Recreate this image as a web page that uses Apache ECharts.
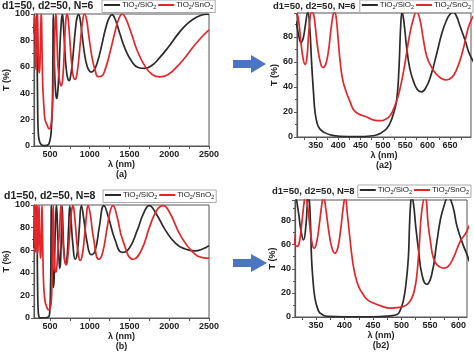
<!DOCTYPE html>
<html>
<head>
<meta charset="utf-8">
<script src="https://cdn.jsdelivr.net/npm/echarts@6/dist/echarts.min.js"></script>
<style>
  html, body { margin: 0; background: #fff; }
  #chart { width: 474px; height: 353px; }
</style>
</head>
<body>
<div id="chart"></div>
<script>
// series names (legend) and panel captions
const seriesNames = ["TiO2/SiO2", "TiO2/SnO2"];
const panelTitles = ["d1=50, d2=50, N=6", "d1=50, d2=50, N=6", "d1=50, d2=50, N=8", "d1=50, d2=50, N=8"];
const panelTags = ["(a)", "(a2)", "(b)", "(b2)"];

// tick labels
const wideLabels = [500, 1000, 1500, 2000, 2500];
const wideTicks = [500, 750, 1000, 1250, 1500, 1750, 2000, 2250, 2500];
const zoomA2Labels = [350, 400, 450, 500, 550, 600, 650];
const zoomA2Ticks = [325, 350, 375, 400, 425, 450, 475, 500, 525, 550, 575, 600, 625, 650, 675];
const zoomB2Labels = [350, 400, 450, 500, 550, 600];
const zoomB2Ticks = [325, 350, 375, 400, 425, 450, 475, 500, 525, 550, 575, 600];

// N=6, TiO2/SiO2  [wavelength nm, T %]
const n6SiO2 = [
  [300, 86], [304, 93], [308, 88], [313, 79], [317, 75.5], [322, 79], [327, 90], [332, 99.5],
  [336, 90], [341, 57], [345, 35], [348, 21], [353, 11], [359, 6.5], [370, 3.5], [382, 1.8],
  [404, 0.6], [440, 0.3], [478, 1], [492, 2.5], [501, 4.5], [509, 7], [516, 11], [524, 19],
  [531, 30], [536, 55], [540, 90], [543, 99.5], [547, 92], [553, 72], [560, 55], [568, 45],
  [577, 38], [586, 36], [597, 40], [608, 50], [620, 66], [632, 83], [642, 93], [650, 98],
  [657, 99.5], [665, 96], [672, 89], [684, 77], [694, 66], [710, 56], [725, 51], [742, 49.5],
  [760, 53], [780, 62], [800, 75], [820, 88], [840, 97], [860, 99.5], [880, 96], [905, 84],
  [935, 70], [965, 61], [995, 57], [1022, 56], [1060, 58], [1100, 64], [1150, 76], [1200, 89],
  [1245, 97], [1280, 99.5], [1320, 96], [1380, 85], [1450, 73], [1530, 64], [1610, 59.5],
  [1690, 58.8], [1780, 61], [1880, 67], [1990, 75], [2100, 84], [2200, 91], [2300, 96],
  [2400, 99], [2480, 99.8], [2500, 99.6]
];

// N=6, TiO2/SnO2
const n6SnO2 = [
  [300, 85], [304, 95], [308, 98], [312, 92], [317, 75], [322, 62], [326, 58], [330, 63],
  [334, 82], [338, 97], [341, 100], [345, 98], [349, 88], [354, 72], [360, 60], [366, 55.5],
  [372, 58], [378, 68], [384, 86], [389, 98], [392, 100], [396, 94], [400, 78], [404, 62],
  [410, 46], [419, 35], [428, 27], [434, 22], [445, 18.5], [464, 16], [480, 13.5], [494, 13],
  [508, 14.5], [516, 17], [523, 21.5], [531, 29], [538, 38], [546, 52], [553, 67], [560, 82],
  [568, 94], [575, 100], [582, 95], [590, 79], [598, 64.5], [610, 55], [620, 50], [632, 46.5],
  [642, 45.5], [655, 48], [665, 54], [678, 68], [690, 86], [697, 93], [706, 98], [716, 100],
  [728, 97], [745, 85], [765, 68], [785, 56], [800, 51.5], [818, 50.5], [838, 54], [860, 64],
  [885, 80], [910, 94], [935, 100], [960, 96], [990, 83], [1030, 67], [1070, 57], [1106, 52.5],
  [1150, 53], [1200, 59], [1260, 72], [1320, 87], [1370, 97], [1410, 100], [1450, 97],
  [1520, 86], [1600, 72], [1700, 60], [1790, 54], [1880, 52.4], [1980, 54], [2080, 59],
  [2200, 67], [2300, 75], [2400, 82], [2500, 88]
];

// N=8, TiO2/SiO2
const n8SiO2 = [
  [300, 62], [304, 80], [309, 97], [313, 99], [318, 90], [323, 73], [328, 64], [332, 75],
  [335, 95], [337, 99.5], [340, 80], [342, 49], [345, 28], [348, 15.7], [352, 8], [357, 3.3],
  [369, 0.5], [400, 0.1], [450, 0.2], [480, 1], [492, 2], [498, 6], [503, 13], [508, 28],
  [512, 49], [514, 75], [516, 94], [518, 99.5], [521, 94], [525, 75], [530, 55], [536, 35],
  [544, 27], [553, 35], [562, 62], [568, 80], [574, 91], [582, 99.5], [590, 92], [597, 76],
  [605, 64], [614, 53], [624, 44], [634, 50], [644, 75], [654, 99], [664, 80], [678, 58],
  [699, 48], [718, 56], [735, 80], [750, 99], [765, 88], [790, 64], [818, 52], [845, 58],
  [870, 80], [896, 99.5], [925, 88], [970, 66], [1020, 56], [1070, 60], [1120, 80],
  [1179, 99.5], [1240, 88], [1320, 69], [1410, 58], [1500, 62], [1600, 78], [1680, 93],
  [1750, 99.5], [1830, 93], [1950, 78], [2080, 66], [2200, 61], [2320, 59.4], [2420, 61],
  [2500, 64]
];

// N=8, TiO2/SnO2
const n8SnO2 = [
  [300, 97], [304, 100], [308, 80], [313, 60], [317, 58.5], [321, 63], [325, 78], [329, 95],
  [331, 99.5], [334, 96], [338, 80], [342, 64], [346.5, 57], [351, 62], [356, 78], [360, 93],
  [363, 99.5], [367, 90], [372, 72], [378, 57], [383, 53], [388, 57], [393, 72], [398, 92],
  [401, 99.5], [405, 85], [410, 62.6], [414, 47], [418.5, 35], [425, 25], [433, 18.5],
  [441, 14], [450.7, 11.6], [465, 9], [480, 7.4], [497, 8], [509, 10], [518, 15.7], [523, 23],
  [527, 35], [531, 58], [535.6, 88], [541.5, 99.5], [547, 76], [551, 62], [556, 49], [563, 43],
  [573.6, 40.5], [582, 42], [591, 49], [603, 62.6], [614.6, 71], [625, 84], [633, 95],
  [640, 99.5], [648, 93], [660, 74], [675, 57], [690, 49], [705, 47], [722, 52], [740, 66],
  [760, 85], [775, 96], [790, 99.5], [808, 92], [835, 70], [858, 56], [880, 51], [905, 55],
  [935, 72], [960, 91], [979, 99.5], [1005, 93], [1050, 70], [1115, 52], [1160, 57], [1220, 80],
  [1260, 95], [1292, 99.5], [1340, 91], [1420, 68], [1550, 52], [1650, 60], [1760, 82],
  [1850, 96], [1925, 99.5], [2000, 94], [2150, 72], [2300, 58], [2420, 53.5], [2500, 53]
];

// layout of the four panels
const panels = [
  { grid: { left: 34, top: 14, width: 175, height: 132 }, xMin: 300, xMax: 2500, labels: wideLabels, ticks: wideTicks, yMax: 100, data: [n6SiO2, n6SnO2], titlePos: [2, 1], titleSize: 10.5, legendPos: { left: 102, top: 0 } },
  { grid: { left: 297, top: 13, width: 174, height: 124 }, xMin: 308, xMax: 697, labels: zoomA2Labels, ticks: zoomA2Ticks, yMax: 99, data: [n6SiO2, n6SnO2], titlePos: [273, 1], titleSize: 9.5, legendPos: { right: 1, top: 0 } },
  { grid: { left: 34, top: 205, width: 175, height: 115 }, xMin: 300, xMax: 2500, labels: wideLabels, ticks: wideTicks, yMax: 100, data: [n8SiO2, n8SnO2], titlePos: [4, 191], titleSize: 10.5, legendPos: { left: 103, top: 190 } },
  { grid: { left: 295, top: 200, width: 172, height: 117 }, xMin: 313, xMax: 615, labels: zoomB2Labels, ticks: zoomB2Ticks, yMax: 97, data: [n8SiO2, n8SnO2], titlePos: [272, 186], titleSize: 9.5, legendPos: { right: 3, top: 185 } }
];

const colors = ["#2b2b2b", "#e3262a"];
const font = "Liberation Sans";
const axisColor = "#555";

const chart = echarts.init(document.getElementById("chart"), null, { renderer: "canvas" });

const option = {
  animation: false,
  backgroundColor: "#fff",
  textStyle: { fontFamily: font },
  title: [],
  legend: [],
  grid: [],
  xAxis: [],
  yAxis: [],
  series: [],
  graphic: [
    // blue arrows between panels
    { type: "polygon", shape: { points: [[233, 60], [251, 60], [251, 55], [266, 64], [251, 73], [251, 68], [233, 68]] }, style: { fill: "#4a74c4" } },
    { type: "polygon", shape: { points: [[233, 259], [251, 259], [251, 254], [267, 263], [251, 272], [251, 267], [233, 267]] }, style: { fill: "#4a74c4" } }
  ]
};

panels.forEach((p, i) => {
  option.grid.push(Object.assign({ show: true, borderColor: axisColor, borderWidth: 1 }, p.grid));
  option.title.push({
    text: panelTitles[i], left: p.titlePos[0], top: p.titlePos[1], padding: 0,
    textStyle: { fontSize: p.titleSize, fontWeight: "bold", color: "#222", fontFamily: font }
  });
  option.legend.push(Object.assign({
    data: seriesNames, orient: "horizontal", icon: "rect", itemWidth: 16, itemHeight: 2, itemGap: 2,
    padding: [1, 2, 2, 2], borderColor: "#aaa", borderWidth: 1, backgroundColor: "#fff",
    formatter: (name) => name.replace(/2/g, "{s|2}"),
    textStyle: {
      fontSize: 8, color: "#222", fontFamily: font, padding: [0, 0, 0, -3],
      rich: { s: { fontSize: 5.5, padding: [5, 0, 0, 0], fontFamily: font, color: "#222" } }
    }
  }, p.legendPos));
  option.xAxis.push({
    type: "value", gridIndex: i, min: p.xMin, max: p.xMax,
    name: "λ (nm)\n" + panelTags[i], nameLocation: "middle", nameGap: 14,
    nameTextStyle: { fontSize: 9, fontWeight: "bold", color: "#222", lineHeight: 10, fontFamily: font },
    axisLine: { show: true, lineStyle: { color: axisColor, width: 1.2 } },
    axisTick: { show: true, length: 3, customValues: p.ticks, lineStyle: { color: axisColor } },
    axisLabel: {
      customValues: p.labels, formatter: (v) => String(v),
      fontSize: 9, fontWeight: "bold", color: "#222", margin: 4, fontFamily: font
    },
    splitLine: { show: false }
  });
  option.yAxis.push({
    type: "value", gridIndex: i, min: 0, max: p.yMax, interval: 20,
    name: "T (%)", nameLocation: "middle", nameGap: 18,
    nameTextStyle: { fontSize: 9, fontWeight: "bold", color: "#222", fontFamily: font },
    axisLine: { show: true, lineStyle: { color: axisColor, width: 1.2 } },
    axisTick: { show: true, length: 3, lineStyle: { color: axisColor } },
    minorTick: { show: true, splitNumber: 2, length: 2, lineStyle: { color: axisColor } },
    axisLabel: {
      formatter: (v) => (v > 100 || v % 20 !== 0 ? "" : String(v)),
      fontSize: 9, fontWeight: "bold", color: "#222", margin: 4, fontFamily: font
    },
    splitLine: { show: false }
  });
  p.data.forEach((d, k) => {
    option.series.push({
      name: seriesNames[k], type: "line", xAxisIndex: i, yAxisIndex: i,
      data: d, symbol: "none", smooth: 0.5, clip: true,
      lineStyle: { color: colors[k], width: 1.7 }, itemStyle: { color: colors[k] }
    });
  });
});

chart.setOption(option);
</script>
</body>
</html>
